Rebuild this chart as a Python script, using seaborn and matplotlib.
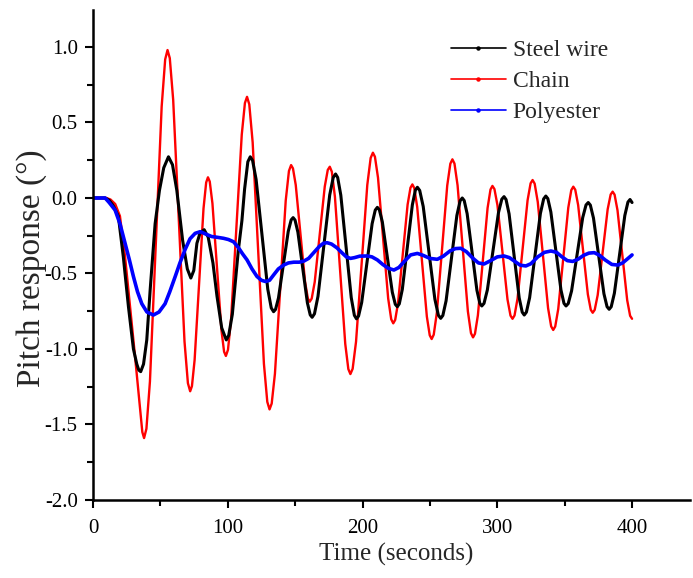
import matplotlib
matplotlib.use("Agg")
import matplotlib.pyplot as plt
from matplotlib.lines import Line2D
import seaborn as sns
import pandas as pd

# ---------------- data ----------------
steel_t = [0, 5, 9, 12, 15, 18.8, 22.5, 26.3, 30, 32.5, 34, 35.4, 37.5, 39.9, 42.4, 46.1, 49.3, 52.5, 56,
           59, 62.2, 66.5, 70, 72.6, 74.8, 77.1, 79.5, 82.5, 85.5, 89, 92, 95.5, 98.9,
           100.7, 103.4, 107.8, 110.5, 112.5, 114.9, 116.7,
           118.43, 121.03, 125.35, 129.68, 132.27, 134,
           135.45, 137.63, 141.25, 144.88, 147.05, 148.5,
           149.91, 152.03, 155.55, 159.08, 161.19, 162.6,
           164.34, 166.95, 171.3, 175.65, 178.26, 180,
           181.55, 183.88, 187.75, 191.63, 193.95, 195.5,
           197.05, 199.38, 203.25, 207.13, 209.45, 211,
           212.48, 214.7, 218.4, 222.1, 224.32, 225.8,
           227.29, 229.53, 233.25, 236.98, 239.21, 240.7,
           242.43, 245.03, 249.35, 253.68, 256.27, 258,
           259.6, 262, 266, 270, 272.4, 274,
           275.45, 277.63, 281.25, 284.88, 287.05, 288.5,
           290.15, 292.63, 296.75, 300.88, 303.35, 305,
           306.5, 308.75, 312.5, 316.25, 318.5, 320,
           321.6, 324, 328, 332, 334.4, 336,
           337.5, 339.75, 343.5, 347.25, 349.5, 351,
           352.65, 355.13, 359.25, 363.38, 365.85, 367.5,
           369.05, 371.38, 375.25, 379.13, 381.45, 383,
           384.55, 386.88, 390.75, 394.63, 396.95, 398.5, 400]
steel_v = [0, 0, 0, -0.015, -0.05, -0.12, -0.39, -0.72, -1.0, -1.10, -1.14, -1.15, -1.10, -0.94, -0.61, -0.17, 0.05, 0.2, 0.273,
           0.22, 0.05, -0.28, -0.47, -0.53, -0.48, -0.30, -0.23, -0.21, -0.26, -0.43, -0.65, -0.86, -0.94,
           -0.91, -0.77, -0.35, -0.15, 0.06, 0.24, 0.273,
           0.248, 0.123, -0.24, -0.603, -0.728, -0.753,
           -0.738, -0.662, -0.4415, -0.221, -0.145, -0.13,
           -0.146, -0.226, -0.46, -0.694, -0.774, -0.79,
           -0.767, -0.651, -0.3155, 0.02, 0.136, 0.159,
           0.136, 0.019, -0.3205, -0.66, -0.777, -0.80,
           -0.782, -0.692, -0.431, -0.17, -0.08, -0.062,
           -0.078, -0.158, -0.391, -0.624, -0.704, -0.72,
           -0.701, -0.605, -0.3245, -0.045, 0.052, 0.071,
           0.05, -0.056, -0.363, -0.67, -0.776, -0.797,
           -0.778, -0.681, -0.3985, -0.116, -0.019, 0.0,
           -0.017, -0.104, -0.3575, -0.611, -0.698, -0.715,
           -0.698, -0.609, -0.353, -0.097, -0.008, 0.009,
           -0.01, -0.105, -0.383, -0.661, -0.756, -0.775,
           -0.756, -0.66, -0.381, -0.102, -0.006, 0.013,
           -0.004, -0.093, -0.351, -0.609, -0.698, -0.715,
           -0.699, -0.615, -0.3725, -0.13, -0.046, -0.03,
           -0.047, -0.133, -0.3835, -0.634, -0.72, -0.737,
           -0.72, -0.631, -0.3735, -0.116, -0.027, -0.01, -0.03]

chain_t = [0, 5, 10, 13, 16.5, 20, 23.8, 27.5, 31.2, 35, 36.6, 37.9,
           39.64, 42.25, 46.6, 50.95, 53.56, 55.3,
           56.98, 59.5, 63.7, 67.9, 70.42, 72.1,
           73.42, 75.4, 78.7, 82.0, 83.98, 85.3,
           86.63, 88.63, 91.95, 95.28, 97.27, 98.6,
           100.17, 102.53, 106.45, 110.38, 112.73, 114.3,
           115.97, 118.48, 122.65, 126.83, 129.33, 131,
           132.6, 135, 139, 143, 145.4, 147,
           148.38, 150.45, 153.9, 157.35, 159.42, 160.8,
           162.29, 164.53, 168.25, 171.98, 174.21, 175.7,
           177.23, 179.53, 183.35, 187.18, 189.47, 191,
           192.67, 195.18, 199.35, 203.53, 206.03, 207.7,
           209.21, 211.48, 215.25, 219.03, 221.29, 222.8,
           224.22, 226.35, 229.9, 233.45, 235.58, 237,
           238.43, 240.58, 244.15, 247.73, 249.87, 251.3,
           252.84, 255.15, 259.0, 262.85, 265.16, 266.7,
           268.23, 270.53, 274.35, 278.18, 280.47, 282,
           283.44, 285.6, 289.2, 292.8, 294.96, 296.4,
           297.89, 300.13, 303.85, 307.58, 309.81, 311.3,
           312.79, 315.03, 318.75, 322.48, 324.71, 326.2,
           327.73, 330.03, 333.85, 337.68, 339.97, 341.5,
           342.99, 345.23, 348.95, 352.68, 354.91, 356.4,
           357.84, 360.0, 363.6, 367.2, 369.36, 370.8,
           372.28, 374.5, 378.2, 381.9, 384.12, 385.6,
           387.04, 389.2, 392.8, 396.4, 398.56, 400]
chain_v = [0, 0, 0, -0.01, -0.04, -0.12, -0.39, -0.72, -1.05, -1.40, -1.55, -1.59,
           -1.528, -1.215, -0.305, 0.605, 0.918, 0.98,
           0.926, 0.65, -0.15, -0.95, -1.226, -1.28,
           -1.246, -1.073, -0.5715, -0.07, 0.103, 0.137,
           0.109, -0.036, -0.4545, -0.873, -1.018, -1.046,
           -1.005, -0.795, -0.188, 0.419, 0.629, 0.67,
           0.62, 0.368, -0.365, -1.098, -1.35, -1.40,
           -1.361, -1.164, -0.591, -0.018, 0.179, 0.218,
           0.196, 0.086, -0.2345, -0.555, -0.665, -0.687,
           -0.666, -0.556, -0.24, 0.076, 0.186, 0.207,
           0.174, 0.007, -0.4795, -0.966, -1.133, -1.166,
           -1.131, -0.952, -0.433, 0.086, 0.265, 0.30,
           0.273, 0.135, -0.265, -0.665, -0.803, -0.83,
           -0.808, -0.696, -0.37, -0.044, 0.068, 0.09,
           0.065, -0.06, -0.422, -0.785, -0.909, -0.934,
           -0.905, -0.76, -0.339, 0.082, 0.227, 0.256,
           0.228, 0.084, -0.3335, -0.751, -0.895, -0.923,
           -0.899, -0.777, -0.4215, -0.066, 0.056, 0.08,
           0.059, -0.048, -0.36, -0.672, -0.779, -0.80,
           -0.778, -0.666, -0.3405, -0.015, 0.097, 0.119,
           0.095, -0.026, -0.3775, -0.729, -0.85, -0.874,
           -0.851, -0.735, -0.3995, -0.064, 0.052, 0.075,
           0.055, -0.047, -0.3425, -0.638, -0.74, -0.76,
           -0.741, -0.643, -0.359, -0.075, 0.023, 0.042,
           0.022, -0.081, -0.379, -0.677, -0.78, -0.80]

poly_t = [0, 5, 9, 12, 16.4, 20, 23.8, 27, 30, 33, 36.2, 40, 44.8, 49, 53.5, 57, 61, 64.5, 68.4, 72, 75.8, 79.6,
          84, 88, 92, 96.9, 100.5, 104.3, 108, 111, 114.3, 118, 121.7, 125, 128, 131, 134, 137.5, 141.5,
          145, 149, 153, 156.4, 160, 164, 168, 171, 173.7, 177, 181, 185, 188, 191, 194, 198, 203.5, 207,
          211, 215, 219, 223.3, 227, 231, 235.7, 240.7, 245, 250, 255.5, 260, 265, 269, 272.9, 277, 282,
          286, 290.2, 295, 300, 305, 309, 313, 317, 321.2, 325, 330, 335, 339.8, 344, 348, 352, 356, 360,
          364, 368, 372, 376, 380, 385, 389.4, 393, 397, 400]
poly_v = [0, 0, 0, -0.03, -0.08, -0.17, -0.30, -0.41, -0.52, -0.62, -0.70, -0.755, -0.775, -0.755, -0.70, -0.62,
          -0.52, -0.43, -0.34, -0.27, -0.234, -0.223,
          -0.24, -0.255, -0.26, -0.267, -0.275, -0.29, -0.33, -0.37, -0.41, -0.47, -0.52, -0.545, -0.553,
          -0.545, -0.51, -0.47, -0.444,
          -0.43, -0.425, -0.425, -0.418, -0.40, -0.36, -0.32, -0.30, -0.296, -0.305, -0.33, -0.365, -0.39,
          -0.40, -0.395, -0.385, -0.384, -0.39,
          -0.41, -0.44, -0.465, -0.477, -0.46, -0.42, -0.377, -0.367, -0.38, -0.40, -0.406, -0.385, -0.35,
          -0.335, -0.333, -0.355, -0.40,
          -0.43, -0.437, -0.415, -0.39, -0.384, -0.395, -0.42, -0.445, -0.45, -0.435, -0.39, -0.36, -0.351,
          -0.36, -0.39, -0.415, -0.42, -0.405,
          -0.38, -0.365, -0.362, -0.38, -0.41, -0.44, -0.444, -0.43, -0.40, -0.377]

series_names = ["Steel wire", "Chain", "Polyester"]
series_colors = ["#000000", "#ff0000", "#0000ff"]
x_ticks = [0, 100, 200, 300, 400]
y_ticks = [-2.0, -1.5, -1.0, -0.5, 0.0, 0.5, 1.0]

# ---------------- build table ----------------
df = pd.concat([
    pd.DataFrame({"t": steel_t, "v": steel_v, "s": series_names[0]}),
    pd.DataFrame({"t": chain_t, "v": chain_v, "s": series_names[1]}),
    pd.DataFrame({"t": poly_t, "v": poly_v, "s": series_names[2]}),
], ignore_index=True)

sns.set_theme(style="ticks")
plt.rcParams["font.family"] = ["Liberation Serif", "DejaVu Serif"]

fig = plt.figure(figsize=(6.93, 5.78), dpi=100)
ax = fig.add_axes([93 / 693, 78 / 578, 597 / 693, 490 / 578])

widths = {"Steel wire": 2.2, "Chain": 1.7, "Polyester": 2.6}
cmap = dict(zip(series_names, series_colors))
for name in ["Chain", "Steel wire", "Polyester"]:
    sns.lineplot(data=df[df["s"] == name], x="t", y="v", color=cmap[name],
                 linewidth=widths[name], sort=False, estimator=None, ax=ax, legend=False)

ax.set_xlim(0, 443)
ax.set_ylim(-2.0, 1.245)
ax.set_xticks(x_ticks)
ax.set_xticklabels([str(v) for v in x_ticks])
ax.set_yticks(y_ticks)
ax.set_yticklabels([f"{v:.1f}" for v in y_ticks])
ax.set_xticks([50, 150, 250, 350], minor=True)
ax.set_yticks([-1.75, -1.25, -0.75, -0.25, 0.25, 0.75], minor=True)
ax.tick_params(axis="both", which="major", direction="out", length=6, width=1.5,
               labelsize=15, color="black", labelcolor="black")
ax.tick_params(axis="both", which="minor", direction="out", length=4, width=1.5, color="black")
ax.tick_params(axis="x", pad=8)
ax.tick_params(axis="y", pad=5)

for side in ["top", "right"]:
    ax.spines[side].set_visible(False)
for side in ["left", "bottom"]:
    ax.spines[side].set_linewidth(1.8)
    ax.spines[side].set_color("black")

ax.set_xlabel("Time (seconds)", fontsize=18)
ax.set_ylabel("Pitch response (°)", fontsize=24)
ax.xaxis.set_label_coords(0.5075, -0.088)
ax.yaxis.set_label_coords(-0.077, 0.474)
ax.grid(False)

handles = [Line2D([], [], color=c, lw=1.2, marker="o", markersize=2.2) for c in series_colors]
ax.legend(handles, series_names, loc="upper left", bbox_to_anchor=(0.6, 0.939), frameon=False,
          fontsize=17, handlelength=2.3, handletextpad=0.3, labelspacing=0.39,
          borderpad=0, borderaxespad=0)

fig.savefig("out.png", dpi=100, facecolor="white")
